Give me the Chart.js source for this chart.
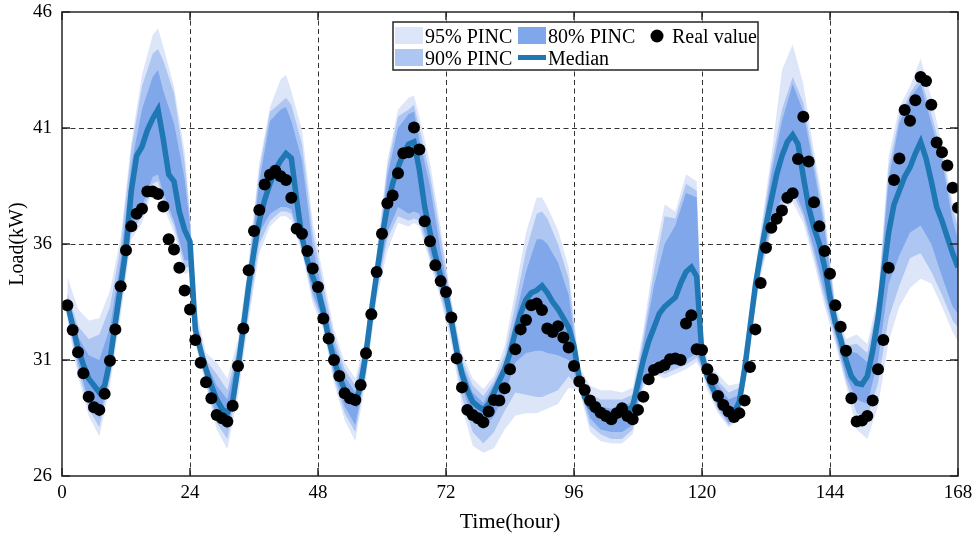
<!DOCTYPE html>
<html>
<head>
<meta charset="utf-8">
<title>PINC load forecast</title>
<script src="https://cdn.jsdelivr.net/npm/chart.js@4.4.1/dist/chart.umd.min.js"></script>
<style>
  html, body { margin: 0; padding: 0; background: #ffffff; }
  #wrap { width: 974px; height: 540px; }
</style>
</head>
<body>
<div id="wrap"><canvas id="chart" width="974" height="540"></canvas></div>
<script>
// ========================
// DATA
// ========================
const hours = Array.from({ length: 168 }, (_, i) => i + 1);

const realValue = [
  33.36, 32.29, 31.33, 30.43, 29.42, 28.96, 28.85, 29.54, 30.97, 32.32,
  34.18, 35.73, 36.76, 37.30, 37.52, 38.26, 38.26, 38.16, 37.62, 36.21,
  35.76, 34.98, 34.00, 33.18, 31.86, 30.88, 30.04, 29.35, 28.63, 28.49,
  28.35, 29.03, 30.74, 32.36, 34.87, 36.56, 37.47, 38.56, 38.99, 39.16,
  38.92, 38.76, 37.99, 36.66, 36.44, 35.70, 34.94, 34.15, 32.79, 31.93,
  31.00, 30.31, 29.57, 29.35, 29.28, 29.92, 31.29, 32.97, 34.79, 36.44,
  37.76, 38.09, 39.05, 39.91, 39.95, 41.02, 40.07, 36.98, 36.12, 35.08,
  34.40, 33.93, 32.83, 31.07, 29.82, 28.85, 28.63, 28.49, 28.32, 28.78,
  29.28, 29.25, 29.78, 30.60, 31.46, 32.32, 32.72, 33.36, 33.43, 33.15,
  32.36, 32.21, 32.46, 31.97, 31.54, 30.74, 30.07, 29.71, 29.25, 28.97,
  28.73, 28.59, 28.45, 28.71, 28.92, 28.59, 28.45, 28.85, 29.42, 30.17,
  30.57, 30.68, 30.78, 31.03, 31.07, 31.00, 32.57, 32.93, 31.46, 31.43,
  30.60, 30.17, 29.45, 29.06, 28.78, 28.54, 28.71, 29.25, 30.70, 32.32,
  34.32, 35.84, 36.70, 37.09, 37.44, 37.99, 38.19, 39.66, 41.48, 39.56,
  37.80, 36.76, 35.70, 34.72, 33.36, 32.43, 31.40, 29.35, 28.35, 28.39,
  28.59, 29.25, 30.60, 31.86, 34.98, 38.76, 39.69, 41.78, 41.31, 42.20,
  43.20, 43.03, 42.00, 40.38, 39.95, 39.38, 38.42, 37.56
];

const median = [
  33.4, 32.5, 31.5, 30.8, 30.2, 29.9, 29.6, 29.9, 31.0, 32.6,
  34.2, 35.8, 38.3, 39.8, 40.2, 40.9, 41.4, 41.8, 40.5, 39.0,
  38.7, 37.4, 36.6, 36.1, 32.3, 31.4, 30.6, 29.9, 29.3, 28.9,
  28.7, 29.2, 30.7, 32.4, 34.2, 35.7, 37.0, 37.9, 38.6, 39.2,
  39.6, 39.9, 39.7, 37.9, 36.3, 35.3, 34.6, 34.0, 33.1, 31.9,
  31.0, 30.3, 29.7, 29.3, 29.15, 29.9, 31.3, 33.1, 34.7, 36.3,
  37.6, 38.6, 39.3, 39.9, 40.3, 40.4, 39.2, 37.6, 36.5, 35.5,
  34.6, 33.8, 32.7, 31.4, 30.4, 29.7, 29.2, 29.0, 28.85, 29.1,
  29.6, 30.1, 30.6, 31.3, 32.2, 33.0, 33.6, 33.9, 34.0, 34.2,
  33.9, 33.5, 33.2, 32.8, 32.4, 31.6, 30.2, 29.4, 29.0, 28.8,
  28.6, 28.5, 28.4, 28.6, 28.7, 28.8, 29.0, 30.0, 31.0, 31.8,
  32.4, 33.0, 33.3, 33.5, 33.7, 34.3, 34.8, 35.0, 34.6, 31.2,
  30.3, 29.8, 29.3, 28.95, 28.8, 28.7, 29.2, 30.6, 32.4, 34.2,
  35.6, 36.8, 37.9, 39.0, 39.8, 40.4, 40.7, 40.3, 38.9, 37.6,
  36.7, 36.0, 35.0, 33.7, 32.6, 31.9, 31.0, 30.3, 30.0, 29.95,
  30.3, 31.4, 32.8, 34.7, 36.5, 37.7, 38.3, 38.9, 39.3, 39.9,
  40.4, 39.7, 38.7, 37.6, 37.0, 36.3, 35.6, 35.0
];

// interval bounds read at these hours
const bandHours = [
  1, 3, 5, 7, 9, 11, 13, 15, 17, 18, 19, 21, 23, 24, 25, 27, 29, 31, 33, 35,
  37, 39, 41, 42, 43, 45, 47, 49, 51, 53, 55, 57, 59, 61, 63, 65, 66, 67, 69, 71,
  73, 75, 77, 79, 81, 83, 85, 87, 89, 90, 91, 93, 95, 97, 99, 101, 103, 105, 107, 109,
  111, 113, 115, 117, 119, 120, 121, 123, 125, 127, 129, 131, 133, 135, 137, 139, 141, 143, 145, 147,
  149, 151, 153, 155, 157, 159, 161, 163, 165, 167, 168
];

const lower95 = [
  32.7, 30.3, 28.6, 27.7, 29.9, 32.9, 36.2, 36.9, 38.3, 38.4, 37.6, 36.5, 34.7, 34.8, 31.7, 29.9, 28.0, 27.15, 29.4, 32.7,
  35.6, 36.75, 37.2, 37.2, 37.0, 35.6, 33.45, 32.3, 30.0, 28.4, 27.5, 30.2, 33.6, 35.7, 36.9, 36.75, 36.9, 36.75, 35.2, 33.6,
  31.7, 29.0, 27.3, 27.0, 27.2, 28.0, 28.6, 28.7, 28.7, 28.8, 28.9, 29.1, 29.8, 29.7, 27.9, 27.5, 27.4, 27.4, 27.8, 29.8,
  30.4, 30.2, 30.4, 30.6, 30.9, 30.5, 29.7, 28.7, 28.1, 28.4, 31.8, 34.6, 36.5, 37.4, 37.8, 36.9, 35.2, 33.3, 31.7, 29.9,
  28.0, 27.6, 29.0, 31.8, 33.3, 34.1, 34.5, 34.3, 33.3, 32.2, 31.8
];
const lower90 = [
  32.9, 30.6, 28.9, 28.1, 30.2, 33.2, 36.5, 37.2, 38.6, 38.7, 37.9, 36.8, 35.0, 35.0, 31.9, 30.0, 28.3, 27.6, 29.9, 33.0,
  36.0, 37.0, 37.4, 37.4, 37.3, 35.75, 33.7, 32.5, 30.2, 28.7, 27.9, 30.4, 33.9, 36.2, 37.2, 37.0, 37.1, 37.0, 35.4, 33.8,
  32.0, 29.4, 27.9, 27.4, 27.9, 28.8, 29.6, 29.5, 29.4, 29.4, 29.5, 29.7, 30.3, 29.8, 28.2, 27.8, 27.6, 27.6, 28.0, 30.0,
  30.6, 30.4, 30.6, 30.8, 31.1, 30.6, 29.9, 28.85, 28.2, 28.5, 31.9, 34.8, 36.7, 37.7, 38.2, 37.2, 35.5, 33.6, 31.9, 30.1,
  28.7, 28.5, 30.0, 32.8, 34.2, 35.4, 35.6, 34.8, 33.8, 32.7, 32.4
];
const lower80 = [
  33.0, 30.9, 29.2, 28.5, 30.4, 33.45, 36.8, 37.6, 38.9, 39.0, 38.2, 37.0, 35.3, 35.3, 32.0, 30.15, 28.6, 28.0, 30.2, 33.45,
  36.5, 37.3, 37.6, 37.6, 37.5, 35.9, 33.9, 32.7, 30.4, 29.0, 28.2, 30.6, 34.2, 36.5, 37.6, 37.3, 37.4, 37.3, 35.6, 34.0,
  32.3, 29.9, 28.4, 28.0, 28.6, 29.5, 30.9, 31.3, 31.4, 31.4, 31.3, 31.2, 31.0, 29.9, 28.5, 28.0, 27.9, 27.9, 28.2, 30.2,
  30.9, 30.7, 30.8, 31.0, 31.3, 30.7, 30.0, 29.0, 28.3, 28.6, 32.0, 35.0, 36.9, 38.0, 38.5, 37.4, 35.8, 33.9, 32.1, 30.3,
  29.3, 29.1, 31.0, 34.3, 35.5, 36.5, 36.8, 36.0, 34.6, 33.3, 33.0
];
const upper80 = [
  33.7, 32.0, 31.2, 31.0, 32.4, 35.3, 39.4, 41.8, 43.2, 43.5, 42.6, 41.2, 38.8, 36.8, 32.7, 30.9, 29.9, 29.3, 31.3, 34.7,
  38.7, 41.3, 41.8, 41.9, 41.3, 39.6, 35.9, 33.7, 31.7, 30.3, 29.6, 31.6, 35.0, 38.9, 41.0, 41.6, 41.7, 40.5, 38.5, 35.7,
  33.2, 30.8, 29.6, 29.15, 29.95, 30.9, 32.8, 34.8, 36.2, 36.2, 36.0, 35.2, 33.8, 30.4, 29.3, 29.0, 28.9, 29.0, 29.2, 31.7,
  34.2, 36.0, 36.8, 38.2, 38.0, 31.8, 30.6, 29.9, 29.3, 29.5, 32.8, 36.0, 39.0, 41.3, 42.9, 41.7, 39.2, 36.6, 33.0, 31.4,
  31.3, 30.9, 33.2, 38.8, 41.2, 42.3, 42.9, 41.2, 39.6, 37.0, 36.2
];
const upper90 = [
  33.9, 32.45, 31.9, 32.1, 33.3, 35.9, 40.1, 42.8, 44.2, 44.4, 43.9, 42.5, 39.5, 37.1, 33.0, 31.0, 30.4, 29.7, 31.6, 35.0,
  39.2, 41.7, 42.1, 42.3, 42.0, 40.3, 36.5, 34.2, 32.0, 30.6, 29.9, 31.8, 35.3, 39.3, 41.5, 41.8, 42.0, 41.0, 39.0, 36.3,
  33.45, 31.0, 29.9, 29.45, 30.1, 31.2, 33.4, 35.7, 37.3, 37.4, 37.1, 36.0, 34.5, 30.55, 29.5, 29.3, 29.3, 29.3, 29.5, 32.0,
  34.8, 37.2, 37.1, 38.6, 38.3, 32.0, 30.8, 30.1, 29.6, 29.8, 33.0, 36.3, 39.4, 41.8, 43.2, 42.1, 39.6, 37.0, 33.2, 31.6,
  31.7, 31.3, 33.5, 39.3, 41.5, 42.5, 43.2, 41.6, 39.9, 37.5, 36.7
];
const upper95 = [
  34.6, 33.2, 32.7, 32.8, 34.0, 36.3, 40.4, 43.3, 45.0, 45.3, 44.5, 42.8, 40.0, 37.4, 33.3, 31.3, 30.9, 30.2, 31.9, 35.3,
  39.5, 41.9, 43.1, 43.3, 42.6, 40.9, 37.0, 34.6, 32.3, 30.9, 30.2, 32.0, 35.6, 39.6, 41.8, 42.3, 42.4, 41.5, 39.5, 36.7,
  33.6, 31.3, 30.2, 29.75, 30.3, 31.6, 34.0, 36.5, 38.0, 38.0, 37.6, 36.6, 35.0, 30.7, 29.9, 29.7, 29.7, 29.6, 29.8, 32.3,
  35.4, 37.7, 37.4, 39.0, 38.7, 32.3, 31.0, 30.4, 29.9, 30.0, 33.2, 36.6, 39.8, 43.5, 44.6, 42.9, 40.0, 37.4, 33.4, 31.9,
  32.1, 31.7, 33.8, 39.8, 41.9, 42.8, 44.0, 42.3, 40.3, 37.8, 37.0
];

const xTickStep = 24;
const yTicks = [26, 31, 36, 41, 46];

// ========================
// STYLE
// ========================
const SERIF = "'Liberation Serif', 'Times New Roman', 'DejaVu Serif', serif";
const C95 = '#dde6f9';
const C90 = '#aec6f2';
const C80 = '#7fa7ea';
const CMED = '#1f77b4';
const FRAME = '#262626';
const NONE = 'rgba(0,0,0,0)';

function pts(xs, ys) {
  return xs.map((x, i) => ({ x: x, y: ys[i] }));
}

function boundSet(label, values, color, order, fillPrev) {
  return {
    label: label,
    data: pts(bandHours, values),
    borderColor: NONE,
    borderWidth: 0,
    pointRadius: 0,
    tension: 0,
    backgroundColor: color || NONE,
    fill: fillPrev ? '-1' : false,
    order: order
  };
}

// hide grid at the frame edges, dashed grid elsewhere
function gridColor(ctx, lo, hi) {
  if (!ctx.tick) return NONE;
  return (ctx.tick.value === lo || ctx.tick.value === hi) ? NONE : '#333333';
}

// Frame with inward tick marks (drawn after the data)
const framePlugin = {
  id: 'frame',
  afterDatasetsDraw(chart) {
    const { ctx, chartArea: a, scales } = chart;
    ctx.save();
    ctx.strokeStyle = FRAME;
    ctx.lineWidth = 1.5;
    ctx.strokeRect(a.left, a.top, a.right - a.left, a.bottom - a.top);
    const len = 8;
    ctx.beginPath();
    scales.x.ticks.forEach(t => {
      const px = scales.x.getPixelForValue(t.value);
      ctx.moveTo(px, a.bottom); ctx.lineTo(px, a.bottom - len);
      ctx.moveTo(px, a.top); ctx.lineTo(px, a.top + len);
    });
    yTicks.forEach(v => {
      const py = scales.y.getPixelForValue(v);
      ctx.moveTo(a.left, py); ctx.lineTo(a.left + len, py);
      ctx.moveTo(a.right, py); ctx.lineTo(a.right - len, py);
    });
    ctx.stroke();
    ctx.restore();
  }
};

// Legend box, three columns by two rows
const legendPlugin = {
  id: 'boxLegend',
  afterDraw(chart) {
    const ctx = chart.ctx;
    const box = { x: 393, y: 22, w: 365, h: 48 };
    ctx.save();
    ctx.fillStyle = '#ffffff';
    ctx.fillRect(box.x, box.y, box.w, box.h);
    ctx.strokeStyle = FRAME;
    ctx.lineWidth = 1.5;
    ctx.strokeRect(box.x, box.y, box.w, box.h);

    ctx.font = '20px ' + SERIF;
    ctx.textBaseline = 'alphabetic';
    const row1 = 43, row2 = 65;

    ctx.fillStyle = C95; ctx.fillRect(395, 27, 28, 17);
    ctx.fillStyle = C80; ctx.fillRect(518, 27, 28, 17);
    ctx.fillStyle = C90; ctx.fillRect(395, 49, 28, 17);

    ctx.strokeStyle = CMED;
    ctx.lineWidth = 5;
    ctx.beginPath(); ctx.moveTo(518, 57.5); ctx.lineTo(546, 57.5); ctx.stroke();

    ctx.fillStyle = '#000000';
    ctx.beginPath(); ctx.arc(657, 36, 6.5, 0, Math.PI * 2); ctx.fill();

    ctx.fillText('95% PINC', 425, row1);
    ctx.fillText('80% PINC', 548, row1);
    ctx.fillText('Real value', 672, row1);
    ctx.fillText('90% PINC', 425, row2);
    ctx.fillText('Median', 548, row2);
    ctx.restore();
  }
};

// ========================
// CHART
// ========================
const ctx = document.getElementById('chart').getContext('2d');
new Chart(ctx, {
  type: 'line',
  data: {
    datasets: [
      boundSet('lower95', lower95, null, 6, false),
      boundSet('95% PINC', upper95, C95, 6, true),
      boundSet('lower90', lower90, null, 5, false),
      boundSet('90% PINC', upper90, C90, 5, true),
      boundSet('lower80', lower80, null, 4, false),
      boundSet('80% PINC', upper80, C80, 4, true),
      {
        label: 'Median',
        data: pts(hours, median),
        borderColor: CMED,
        borderWidth: 5.5,
        pointRadius: 0,
        tension: 0,
        fill: false,
        order: 2
      },
      {
        label: 'Real value',
        data: pts(hours, realValue),
        showLine: false,
        pointRadius: 6,
        pointHoverRadius: 6,
        pointBackgroundColor: '#000000',
        pointBorderWidth: 0,
        borderColor: NONE,
        fill: false,
        order: 1
      }
    ]
  },
  options: {
    responsive: false,
    animation: false,
    devicePixelRatio: 1,
    layout: { padding: { top: 12, right: 16, left: 0, bottom: 0 } },
    plugins: {
      legend: { display: false },
      tooltip: { enabled: false }
    },
    scales: {
      x: {
        type: 'linear',
        min: 0,
        max: 168,
        ticks: {
          stepSize: xTickStep,
          color: '#000000',
          font: { family: SERIF, size: 19 },
          padding: 6,
          maxRotation: 0
        },
        grid: { color: c => gridColor(c, 0, 168), lineWidth: 1, drawTicks: false },
        border: { display: false, dash: [5, 3.5] },
        title: {
          display: true,
          text: 'Time(hour)',
          color: '#000000',
          font: { family: SERIF, size: 22 },
          padding: { top: 0, bottom: 5 }
        },
        afterFit: s => {
          s.height = 64;
          s.paddingLeft = 0;
          s.paddingRight = 0;
        }
      },
      y: {
        min: 26,
        max: 46,
        ticks: {
          stepSize: 5,
          color: '#000000',
          font: { family: SERIF, size: 19 },
          padding: 10
        },
        grid: { color: c => gridColor(c, 26, 46), lineWidth: 1, drawTicks: false },
        border: { display: false, dash: [5, 3.5] },
        title: {
          display: true,
          text: 'Load(kW)',
          color: '#000000',
          font: { family: SERIF, size: 20 },
          padding: { top: 6, bottom: 0 }
        },
        afterFit: s => {
          s.width = 62;
          s.paddingTop = 0;
          s.paddingBottom = 0;
        }
      }
    }
  },
  plugins: [framePlugin, legendPlugin]
});
</script>
</body>
</html>
